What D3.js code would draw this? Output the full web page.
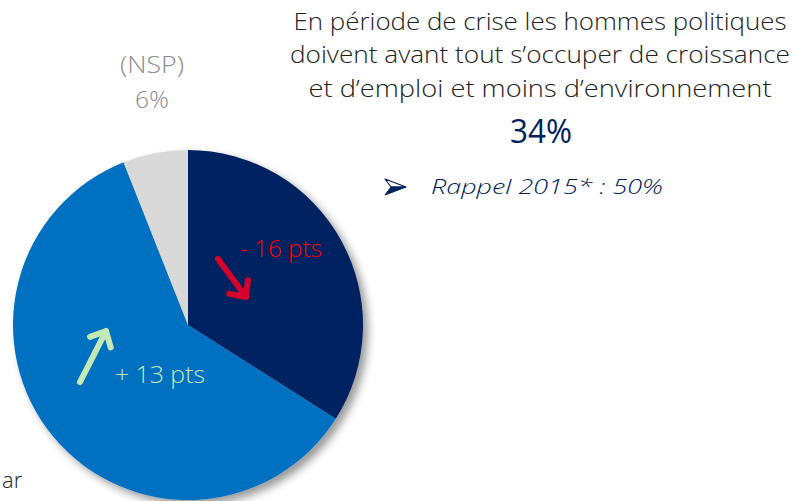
<!DOCTYPE html>
<html><head><meta charset="utf-8">
<script src="https://cdn.jsdelivr.net/npm/d3@7"></script>
<style>body{margin:0;background:#fff}svg{display:block}</style>
</head><body>
<script>
const categories = ["Croissance et emploi", "Autre", "(NSP)"];
const values = [34, 60, 6];
const colors = ["#002060", "#0070C0", "#D9D9D9"];
const titleLines = ["En période de crise les hommes politiques", "doivent avant tout s’occuper de croissance", "et d’emploi et moins d’environnement"];
const mainValue = "34%";
const rappel = "Rappel 2015* : 50%";
const nspLabel = ["(NSP)", "6%"];
const changes = [{text: "- 16 pts", color: "#FF0000"}, {text: "+ 13 pts", color: "#C5E8B7"}];

const W = 795, H = 501;
const svg = d3.select("body").append("svg").attr("width", W).attr("height", H);
const defs = svg.append("defs");
const f = defs.append("filter").attr("id", "sh").attr("x", "-20%").attr("y", "-20%").attr("width", "140%").attr("height", "140%");
f.append("feDropShadow").attr("dx", 5).attr("dy", 5).attr("stdDeviation", 4).attr("flood-color", "#000").attr("flood-opacity", 0.4);

const font = "'Open Sans', Lato, sans-serif";
const cx = 188, cy = 325, r = 175;
const pie = d3.pie().sort(null).value(d => d)(values);
const arc = d3.arc().innerRadius(0).outerRadius(r);
const g = svg.append("g").attr("transform", `translate(${cx},${cy})`);
const gp = g.append("g").attr("filter", "url(#sh)");
gp.selectAll("path").data(pie).join("path").attr("d", arc).attr("fill", (d, i) => colors[i]);

// title
const tx = 540;
svg.append("g").selectAll("text").data(titleLines).join("text")
  .attr("x", tx).attr("y", (d, i) => 29.5 + i * 33.5)
  .attr("text-anchor", "middle").attr("font-family", font).attr("font-weight", 300)
  .attr("font-size", 23).attr("fill", "#222")
  .attr("textLength", (d, i) => [493, 500, 463][i]).attr("lengthAdjust", "spacingAndGlyphs")
  .text(d => d);
svg.append("text").attr("x", 541).attr("y", 143).attr("text-anchor", "middle")
  .attr("font-family", font).attr("font-size", 32).attr("font-weight", 500).attr("fill", "#002060")
  .attr("textLength", 62).attr("lengthAdjust", "spacingAndGlyphs").text(mainValue);
// bullet arrowhead (two-tone)
svg.append("path").attr("d", "M406,187 L385,179 L391,187 Z").attr("fill", "#fff").attr("stroke", "#002060").attr("stroke-width", 1.2).attr("stroke-linejoin", "round");
svg.append("path").attr("d", "M406,187 L391,187 L385,195 Z").attr("fill", "#002060").attr("stroke", "#002060").attr("stroke-width", 1).attr("stroke-linejoin", "round");
svg.append("text").attr("x", 431).attr("y", 193.5).attr("font-family", font).attr("font-style", "italic").attr("font-weight", 300)
  .attr("font-size", 21).attr("fill", "#002060").attr("textLength", 232).attr("lengthAdjust", "spacingAndGlyphs").text(rappel);

// NSP
svg.append("g").selectAll("text").data(nspLabel).join("text")
  .attr("x", 152).attr("y", (d, i) => 73 + i * 35).attr("text-anchor", "middle")
  .attr("font-family", font).attr("font-weight", 300).attr("font-size", 23).attr("fill", "#8C8C8C")
  .attr("textLength", (d, i) => [64, 34][i]).attr("lengthAdjust", "spacingAndGlyphs").text(d => d);

// change labels
svg.append("text").attr("x", 240).attr("y", 257).attr("font-family", font).attr("font-weight", 300)
  .attr("font-size", 23).attr("fill", changes[0].color).attr("textLength", 82).attr("lengthAdjust", "spacingAndGlyphs").text(changes[0].text);
svg.append("text").attr("x", 115).attr("y", 383).attr("font-family", font).attr("font-weight", 300)
  .attr("font-size", 23).attr("fill", changes[1].color).attr("textLength", 90).attr("lengthAdjust", "spacingAndGlyphs").text(changes[1].text);

// arrows
function arrow(x1, y1, x2, y2, col) {
  const a = Math.atan2(y2 - y1, x2 - x1), L = 17, sp = 0.75;
  const p1 = [x2 - L * Math.cos(a - sp), y2 - L * Math.sin(a - sp)];
  const p2 = [x2 - L * Math.cos(a + sp), y2 - L * Math.sin(a + sp)];
  svg.append("path").attr("d", `M${x1},${y1} L${x2},${y2} M${p1[0]},${p1[1]} L${x2},${y2} L${p2[0]},${p2[1]}`)
    .attr("fill", "none").attr("stroke", col).attr("stroke-width", 6).attr("stroke-linecap", "round").attr("stroke-linejoin", "round");
}
arrow(218, 259, 246, 297, "#D6002A");
arrow(80, 382, 106, 331, "#C5E8B7");

svg.append("text").attr("x", 2).attr("y", 488).attr("font-family", font).attr("font-weight", 300).attr("font-size", 22).attr("fill", "#222").text("ar");
</script>
</body></html>
